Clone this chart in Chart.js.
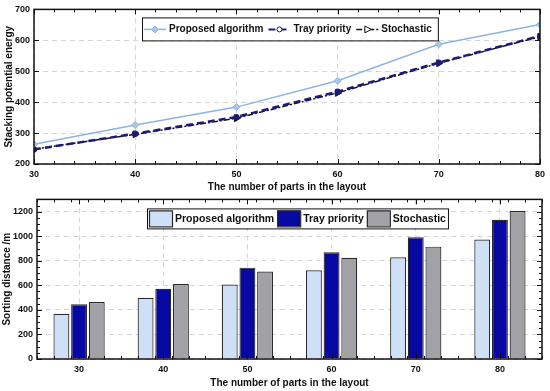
<!DOCTYPE html>
<html>
<head>
<meta charset="utf-8">
<script src="https://cdn.jsdelivr.net/npm/chart.js@4"></script>
<style>
	body { margin: 0; background: #fff; }
	.box { position: absolute; left: 0; width: 550px; }
	#topBox { top: 0; height: 195px; }
	#botBox { top: 190px; height: 201px; }
</style>
</head>
<body>
<div class="box" id="topBox"><canvas id="energyChart"></canvas></div>
<div class="box" id="botBox"><canvas id="distanceChart"></canvas></div>
<script>
const partCounts = [30, 40, 50, 60, 70, 80];

// (a) stacking potential energy
const energyProposed = [264, 326, 384, 469, 587, 651];
const energyTray = [247, 298, 352, 434, 528, 614];
const energyStochastic = [248, 296, 348, 430, 526, 612];
const energyTicks = [200, 300, 400, 500, 600, 700];

// (b) sorting distance
const distanceProposed = [369, 498, 607, 722, 828, 973];
const distanceTray = [445, 572, 744, 870, 991, 1134];
const distanceStochastic = [464, 611, 712, 825, 915, 1205];
const distanceTicks = [0, 200, 400, 600, 800, 1000, 1200];

const FONT = '"Liberation Sans", Arial, sans-serif';
const INK = '#111';
const GRID = '#d6d6d6';

Chart.defaults.font.family = FONT;
Chart.defaults.color = INK;

// MATLAB style box with inward ticks
const framePlugin = {
	id: 'frame',
	afterDatasetsDraw(chart, args, opts) {
		const { ctx, chartArea: a, scales } = chart;
		const x = scales.x, y = scales.y;
		ctx.save();
		ctx.strokeStyle = INK;
		ctx.lineWidth = 1;
		ctx.beginPath();
		const xTick = (v, len) => {
			const p = Math.round(x.getPixelForValue(v)) + 0.5;
			ctx.moveTo(p, a.bottom); ctx.lineTo(p, a.bottom - len);
			ctx.moveTo(p, a.top); ctx.lineTo(p, a.top + len);
		};
		const yTick = (v, len) => {
			const p = Math.round(y.getPixelForValue(v)) + 0.5;
			ctx.moveTo(a.left, p); ctx.lineTo(a.left + len, p);
			ctx.moveTo(a.right, p); ctx.lineTo(a.right - len, p);
		};
		opts.xMajor.forEach(v => xTick(v, 5));
		opts.xMinor.forEach(v => xTick(v, 3));
		opts.yMajor.forEach(v => yTick(v, 5));
		opts.yMinor.forEach(v => yTick(v, 3));
		ctx.stroke();
		ctx.lineWidth = 1.5;
		ctx.strokeRect(a.left, a.top, a.width, a.height);
		ctx.restore();
	}
};

function drawMarker(ctx, ds, cx, cy, fill) {
	const r = ds.pointRadius;
	ctx.setLineDash([]);
	ctx.fillStyle = fill;
	ctx.strokeStyle = ds.borderColor;
	ctx.lineWidth = 1;
	ctx.beginPath();
	if (ds.pointStyle === 'rectRot') {
		ctx.moveTo(cx, cy - r); ctx.lineTo(cx + r, cy); ctx.lineTo(cx, cy + r); ctx.lineTo(cx - r, cy);
		ctx.closePath();
	} else if (ds.pointStyle === 'triangle') {
		ctx.moveTo(cx + r, cy); ctx.lineTo(cx - r * 0.6, cy - r * 0.85); ctx.lineTo(cx - r * 0.6, cy + r * 0.85);
		ctx.closePath();
	} else {
		ctx.arc(cx, cy, r, 0, Math.PI * 2);
	}
	ctx.fill();
	ctx.stroke();
}

const energyLegend = {
	id: 'energyLegend',
	afterDraw(chart) {
		const { ctx, chartArea: a } = chart;
		const sets = chart.data.datasets;
		const left = a.left + 108, top = a.top + 8, h = 23;
		ctx.save();
		ctx.font = 'bold 10px ' + FONT;
		let w = 3;
		sets.forEach(ds => { w += 22 + 3 + ctx.measureText(ds.label).width + 5; });
		ctx.fillStyle = '#fff';
		ctx.fillRect(left, top, w, h);
		ctx.strokeStyle = INK;
		ctx.lineWidth = 1;
		ctx.strokeRect(left + 0.5, top + 0.5, w, h);
		const cy = top + h / 2 + 0.5;
		let x = left + 2;
		sets.forEach(ds => {
			ctx.strokeStyle = ds.borderColor;
			ctx.lineWidth = Math.min(ds.borderWidth, 2);
			ctx.setLineDash(ds.borderDash || []);
			ctx.beginPath();
			ctx.moveTo(x, cy); ctx.lineTo(x + 22, cy);
			ctx.stroke();
			drawMarker(ctx, ds, x + 11, cy, ds.pointStyle === 'rectRot' ? ds.pointBackgroundColor : '#fff');
			x += 25;
			ctx.fillStyle = INK;
			ctx.textBaseline = 'middle';
			ctx.fillText(ds.label, x, cy);
			x += ctx.measureText(ds.label).width + 5;
		});
		ctx.restore();
	}
};

const distanceLegend = {
	id: 'distanceLegend',
	afterDraw(chart) {
		const { ctx, chartArea: a } = chart;
		const sets = chart.data.datasets;
		const left = a.left + 110, top = a.top + 9, h = 20;
		ctx.save();
		ctx.font = 'bold 10.5px ' + FONT;
		let w = 1;
		sets.forEach(ds => { w += 24 + 2 + ctx.measureText(ds.label).width + 3; });
		ctx.fillStyle = '#fff';
		ctx.fillRect(left, top, w, h);
		ctx.strokeStyle = INK;
		ctx.lineWidth = 1;
		ctx.strokeRect(left + 0.5, top + 0.5, w, h);
		const cy = top + h / 2 + 0.5;
		let x = left + 2;
		sets.forEach(ds => {
			ctx.fillStyle = ds.backgroundColor;
			ctx.fillRect(x, top + 2, 23, 16);
			ctx.strokeStyle = ds.borderColor;
			ctx.lineWidth = 1.2;
			ctx.strokeRect(x + 0.5, top + 2.5, 23, 16);
			x += 26;
			ctx.fillStyle = INK;
			ctx.textBaseline = 'middle';
			ctx.fillText(ds.label, x, cy);
			x += ctx.measureText(ds.label).width + 3;
		});
		ctx.restore();
	}
};

const tickFont = { size: 9, weight: 'bold' };
const titleFont = { size: 10, weight: 'bold' };
const plainLabel = v => String(v);

// Stacking potential energy (line chart)
new Chart(document.getElementById('energyChart'), {
	type: 'line',
	data: {
		datasets: [{
			label: 'Proposed algorithm',
			data: partCounts.map((c, i) => ({ x: c, y: energyProposed[i] })),
			borderColor: '#8ab4e2',
			pointBackgroundColor: '#a8c8ec',
			borderWidth: 1.5,
			pointStyle: 'rectRot',
			pointRadius: 3.5,
			pointBorderWidth: 1,
			order: 0
		}, {
			label: 'Tray priority',
			data: partCounts.map((c, i) => ({ x: c, y: energyTray[i] })),
			borderColor: '#1c1c78',
			pointBackgroundColor: '#1c1c78',
			borderWidth: 2.5,
			borderDash: [7, 4],
			pointStyle: 'circle',
			pointRadius: 2.5,
			pointBorderWidth: 1.2,
			order: 1
		}, {
			label: 'Stochastic',
			data: partCounts.map((c, i) => ({ x: c, y: energyStochastic[i] })),
			borderColor: '#111',
			pointBackgroundColor: '#111',
			borderWidth: 1.5,
			borderDash: [6, 2, 2, 2],
			pointStyle: 'triangle',
			pointRotation: 90,
			pointRadius: 4,
			pointBorderWidth: 1,
			order: 2
		}]
	},
	options: {
		responsive: true,
		maintainAspectRatio: false,
		animation: false,
		layout: { padding: { top: 8, right: 8, left: 0, bottom: 0 } },
		plugins: {
			legend: { display: false },
			tooltip: { enabled: false },
			frame: {
				xMajor: partCounts,
				xMinor: partCounts.slice(0, -1).flatMap(c => [2, 4, 6, 8].map(d => c + d)),
				yMajor: energyTicks,
				yMinor: []
			}
		},
		scales: {
			x: {
				type: 'linear',
				min: partCounts[0],
				max: partCounts[partCounts.length - 1],
				afterBuildTicks: s => { s.ticks = partCounts.map(v => ({ value: v })); },
				afterFit: s => { s.height = 31; },
				ticks: { font: tickFont, padding: 5, maxRotation: 0, callback: plainLabel },
				grid: { color: GRID, drawTicks: false },
				border: { display: false, dash: [5, 4] },
				title: { display: true, text: 'The number of parts in the layout', font: titleFont, padding: { top: 0, bottom: 2 } }
			},
			y: {
				min: energyTicks[0],
				max: energyTicks[energyTicks.length - 1],
				afterBuildTicks: s => { s.ticks = energyTicks.map(v => ({ value: v })); },
				afterFit: s => { s.width = 34; },
				ticks: { font: tickFont, padding: 4, callback: plainLabel },
				grid: { color: GRID, drawTicks: false },
				border: { display: false, dash: [5, 4] },
				title: { display: true, text: 'Stacking potential energy', font: titleFont, padding: { top: 3, bottom: 0 } }
			}
		}
	},
	plugins: [framePlugin, energyLegend]
});

// Sorting distance (grouped bar chart)
const barBorder = '#2b2b2b';
new Chart(document.getElementById('distanceChart'), {
	type: 'bar',
	data: {
		labels: partCounts,
		datasets: [{
			label: 'Proposed algorithm',
			data: distanceProposed,
			backgroundColor: '#cde0f6',
			borderColor: barBorder,
			borderWidth: 1.2
		}, {
			label: 'Tray priority',
			data: distanceTray,
			backgroundColor: '#0808a2',
			borderColor: barBorder,
			borderWidth: 1.2
		}, {
			label: 'Stochastic',
			data: distanceStochastic,
			backgroundColor: '#a2a2a6',
			borderColor: barBorder,
			borderWidth: 1.2
		}]
	},
	options: {
		responsive: true,
		maintainAspectRatio: false,
		animation: false,
		categoryPercentage: 0.63,
		barPercentage: 0.9,
		layout: { padding: { top: 4, right: 8, left: 0, bottom: 0 } },
		plugins: {
			legend: { display: false },
			tooltip: { enabled: false },
			frame: {
				xMajor: partCounts.map((c, i) => i),
				xMinor: Array.from({ length: 31 }, (_, k) => -0.5 + k * 0.2).filter(v => Math.abs(v - Math.round(v)) > 0.05),
				yMajor: distanceTicks,
				yMinor: Array.from({ length: 26 }, (_, k) => k * 50).filter(v => v % 200 !== 0)
			}
		},
		scales: {
			x: {
				afterFit: s => { s.height = 32; },
				ticks: { font: tickFont, padding: 5, maxRotation: 0 },
				grid: { color: GRID, drawTicks: false, offset: false },
				border: { display: false, dash: [5, 4] },
				title: { display: true, text: 'The number of parts in the layout', font: titleFont, padding: { top: 0, bottom: 2 } }
			},
			y: {
				min: 0,
				max: 1300,
				afterBuildTicks: s => { s.ticks = distanceTicks.map(v => ({ value: v })); },
				afterFit: s => { s.width = 37; },
				ticks: { font: tickFont, padding: 4, callback: plainLabel },
				grid: { color: GRID, drawTicks: false },
				border: { display: false, dash: [5, 4] },
				title: { display: true, text: 'Sorting distance /m', font: titleFont, padding: { top: 1, bottom: 0 } }
			}
		}
	},
	plugins: [framePlugin, distanceLegend]
});
</script>
</body>
</html>
